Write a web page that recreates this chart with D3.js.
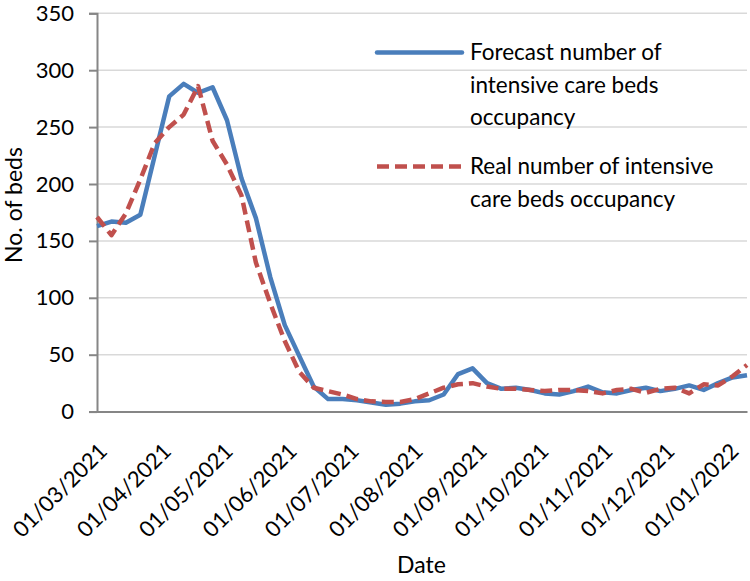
<!DOCTYPE html>
<html>
<head>
<meta charset="utf-8">
<script src="https://cdn.jsdelivr.net/npm/d3@7"></script>
<style>
  html, body { margin: 0; padding: 0; background: #fff; }
  svg { display: block; font-family: Carlito, Lato, "Open Sans", sans-serif; }
</style>
</head>
<body>
<svg id="chart" width="750" height="581"></svg>
<script>
const dates = [
  "2021-03-01","2021-03-08","2021-03-15","2021-03-22","2021-03-29",
  "2021-04-05","2021-04-12","2021-04-19","2021-04-26",
  "2021-05-03","2021-05-10","2021-05-17","2021-05-24","2021-05-31",
  "2021-06-07","2021-06-14","2021-06-21","2021-06-28",
  "2021-07-05","2021-07-12","2021-07-19","2021-07-26",
  "2021-08-02","2021-08-09","2021-08-16","2021-08-23","2021-08-30",
  "2021-09-06","2021-09-13","2021-09-20","2021-09-27",
  "2021-10-04","2021-10-11","2021-10-18","2021-10-25",
  "2021-11-01","2021-11-08","2021-11-15","2021-11-22","2021-11-29",
  "2021-12-06","2021-12-13","2021-12-20","2021-12-27",
  "2022-01-03","2022-01-10"
];
const forecast = [
  163,167,166,173,225,277,288,280,285,256,
  205,170,118,76,49,22,11,11,10,8,
  6,7,9,10,15,33,38,25,20,21,
  19,16,15,18,22,17,16,19,21,18,
  20,23,19,25,30,32
];
const real = [
  171,155,174,204,236,250,261,286,238,217,
  190,131,95,62,35,21,18,15,11,9,
  8.5,8.5,11,16,21,24,25,22,20,20,
  19,18,19,19,18,16,19,20,16.5,20,
  21,16,24,23,31,41
];
const xTickLabels = [
  "01/03/2021","01/04/2021","01/05/2021","01/06/2021","01/07/2021","01/08/2021",
  "01/09/2021","01/10/2021","01/11/2021","01/12/2021","01/01/2022"
];
const yTicks = [0,50,100,150,200,250,300,350];
const seriesNames = [
  ["Forecast number of", "intensive care beds", "occupancy"],
  ["Real number of intensive", "care beds occupancy"]
];

const parseISO = d3.timeParse("%Y-%m-%d");
const parseDMY = d3.timeParse("%d/%m/%Y");
const dateObjs = dates.map(parseISO);

const svg = d3.select("#chart");
const pLeft = 97, pRight = 747, pTop = 13.3, pBottom = 411.6;
const FONT = "Lato, sans-serif";

const x = d3.scaleTime().domain([dateObjs[0], dateObjs[dateObjs.length - 1]]).range([pLeft, pRight]);
const y = d3.scaleLinear().domain([0, 350]).range([pBottom, pTop]);

// gridlines
svg.append("g").selectAll("line").data(yTicks.filter(t => t > 0)).join("line")
  .attr("x1", pLeft).attr("x2", pRight)
  .attr("y1", d => y(d)).attr("y2", d => y(d))
  .attr("stroke", "#d9d9d9").attr("stroke-width", 1.5);

// y axis
const yAxis = d3.axisLeft(y).tickValues(yTicks).tickSize(8).tickPadding(15);
const gy = svg.append("g").attr("transform", `translate(${pLeft},0)`).call(yAxis);
gy.select(".domain").attr("stroke", "#868686").attr("stroke-width", 2);
gy.selectAll(".tick line").attr("stroke", "#868686").attr("stroke-width", 2);
gy.selectAll(".tick text").attr("font-size", 22).attr("fill", "#000")
  .attr("font-family", FONT);

// x axis
const tickDates = xTickLabels.map(parseDMY);
const xAxis = d3.axisBottom(x).tickValues(tickDates).tickSize(0)
  .tickFormat(d3.timeFormat("%d/%m/%Y"));
const gx = svg.append("g").attr("transform", `translate(0,${pBottom})`).call(xAxis);
gx.select(".domain").attr("stroke", "#868686").attr("stroke-width", 2);
gx.selectAll(".tick text")
  .attr("font-size", 22).attr("fill", "#000").attr("font-family", FONT)
  .attr("text-anchor", "end")
  .attr("dy", null).attr("y", null)
  .attr("dominant-baseline", "central")
  .attr("transform", "translate(5,35) rotate(-45)");

// lines
const line = d3.line().x((d, i) => x(dateObjs[i])).y(d => y(d));
svg.append("path").datum(forecast).attr("d", line)
  .attr("fill", "none").attr("stroke", "#4a7ebb").attr("stroke-width", 4.5)
  .attr("stroke-linejoin", "round");
svg.append("path").datum(real).attr("d", line)
  .attr("fill", "none").attr("stroke", "#c0504d").attr("stroke-width", 4.5)
  .attr("stroke-dasharray", "12,6").attr("stroke-linejoin", "round");

// legend
const leg = svg.append("g").attr("font-family", FONT).attr("font-size", 22.5);
leg.append("line").attr("x1", 377).attr("x2", 462).attr("y1", 52.5).attr("y2", 52.5)
  .attr("stroke", "#4a7ebb").attr("stroke-width", 4.5).attr("stroke-linecap", "round");
leg.append("line").attr("x1", 377).attr("x2", 462).attr("y1", 166.5).attr("y2", 166.5)
  .attr("stroke", "#c0504d").attr("stroke-width", 4.5).attr("stroke-dasharray", "12,6");
seriesNames[0].forEach((t, i) => leg.append("text").attr("x", 470).attr("y", 60 + i * 32.5).text(t));
seriesNames[1].forEach((t, i) => leg.append("text").attr("x", 470).attr("y", 174 + i * 32.5).text(t));

// axis titles
svg.append("text").attr("x", 421.5).attr("y", 573).attr("text-anchor", "middle")
  .attr("font-family", FONT).attr("font-size", 23).text("Date");
svg.append("text").attr("transform", "translate(22,205) rotate(-90)").attr("text-anchor", "middle")
  .attr("font-family", FONT).attr("font-size", 23).text("No. of beds");
</script>
</body>
</html>
